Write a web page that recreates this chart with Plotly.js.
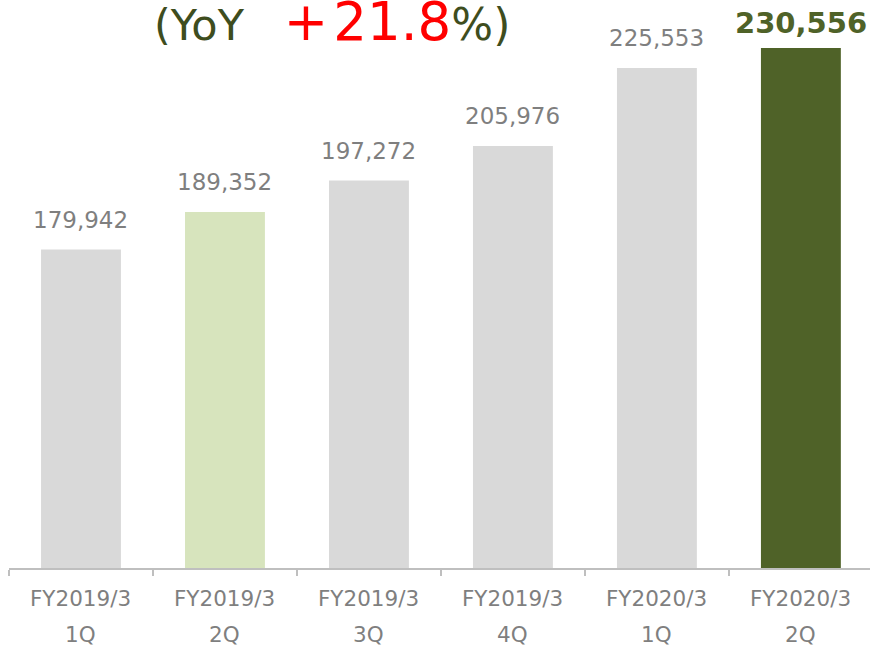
<!DOCTYPE html>
<html>
<head>
<meta charset="utf-8">
<script src="https://cdn.plot.ly/plotly-3.0.1.min.js"></script>
<style>html,body{margin:0;padding:0;background:#fff;overflow:hidden}#chart{width:870px;height:645px}</style>
</head>
<body>
<div id="chart"></div>
<script>
// ---- data ----
const fyLabels = ['FY2019/3', 'FY2019/3', 'FY2019/3', 'FY2019/3', 'FY2020/3', 'FY2020/3'];
const quarterLabels = ['1Q', '2Q', '3Q', '4Q', '1Q', '2Q'];
const sales = [179942, 189352, 197272, 205976, 225553, 230556];
const yoySign = '+';
const yoyValue = '21.8';

// ---- build ----
const categories = fyLabels.map((f, i) => f + ' ' + quarterLabels[i]);
const barColors = ['#d9d9d9', '#d7e4bd', '#d9d9d9', '#d9d9d9', '#d9d9d9', '#4f6228'];
const FONT = 'DejaVu Sans, Verdana, sans-serif';
const GRAY = '#7f7f7f';
const OLIVE = '#4f6228';
const last = sales.length - 1;

const annotations = [];
sales.forEach((v, i) => {
  const isLast = i === last;
  annotations.push({
    x: categories[i], y: v, xref: 'x', yref: 'y',
    text: v.toLocaleString('en-US'),
    showarrow: false, xanchor: 'center', yanchor: 'bottom',
    yshift: isLast ? 6 : 15,
    font: isLast ? {family: FONT, size: 29, color: OLIVE, weight: 'bold'} : {family: FONT, size: 23, color: GRAY}
  });
  annotations.push({
    x: categories[i], y: 0, xref: 'x', yref: 'paper',
    text: fyLabels[i], showarrow: false, xanchor: 'center', yanchor: 'top',
    yshift: -16, font: {family: FONT, size: 21.5, color: GRAY}
  });
  annotations.push({
    x: categories[i], y: 0, xref: 'x', yref: 'paper',
    text: quarterLabels[i], showarrow: false, xanchor: 'center', yanchor: 'top',
    yshift: -52, font: {family: FONT, size: 21.5, color: GRAY}
  });
});

annotations.push({
  xref: 'paper', yref: 'paper', x: (152 - 9) / 861, y: 1,
  xanchor: 'left', yanchor: 'top', yshift: 12, showarrow: false,
  text: '<span style="color:#3e4d1e;font-size:43px">(YoY</span>' +
        '<span style="font-size:54px">\u00a0\u00a0\u200a</span>' +
        '<span style="color:#ff0000;font-size:53px">' + yoySign + '\u200a' + yoyValue + '</span>' +
        '<span style="color:#3e4d1e;font-size:44px">%)</span>',
  font: {family: FONT, size: 43, color: '#3e4d1e'}
});

const trace = {
  type: 'bar', x: categories, y: sales,
  marker: {color: barColors, line: {width: 0}},
  hoverinfo: 'skip'
};

const layout = {
  width: 870, height: 645,
  margin: {l: 9, r: 0, t: 0, b: 77, pad: 0},
  paper_bgcolor: '#ffffff', plot_bgcolor: '#ffffff',
  showlegend: false, bargap: 0.445,
  font: {family: FONT},
  xaxis: {
    type: 'category', range: [-0.5, 5.48], fixedrange: true,
    showticklabels: false, tickson: 'boundaries', ticks: 'outside', ticklen: 6,
    tickcolor: '#bfbfbf', tickwidth: 1.5, showline: true, linecolor: '#bfbfbf', linewidth: 1.5,
    showgrid: false, zeroline: false
  },
  yaxis: {
    range: [100000, 242600], visible: false, showgrid: false, zeroline: false, fixedrange: true
  },
  annotations: annotations
};

Plotly.newPlot('chart', [trace], layout, {staticPlot: true, displayModeBar: false});
</script>
</body>
</html>
